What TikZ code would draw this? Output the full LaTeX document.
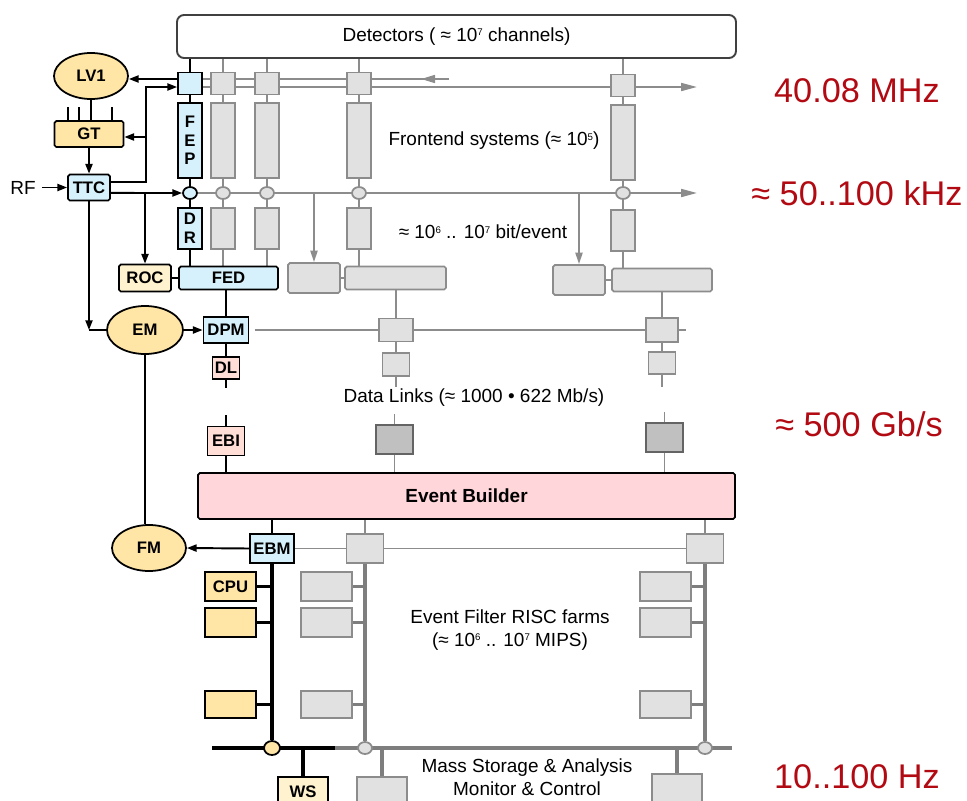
\documentclass[tikz,border=0pt]{standalone}
\usepackage{fontspec}
\setmainfont{Liberation Sans}
\usetikzlibrary{shapes.geometric,arrows.meta,backgrounds}

\definecolor{bluefill}{RGB}{214,240,252}
\definecolor{yelfill}{RGB}{255,230,166}
\definecolor{palefill}{RGB}{255,242,206}
\definecolor{pinkfill}{RGB}{255,222,216}
\definecolor{ebfill}{RGB}{255,214,218}
\definecolor{grfill}{RGB}{225,225,225}
\definecolor{grline}{RGB}{140,140,140}
\definecolor{dkfill}{RGB}{192,192,192}
\definecolor{dkline}{RGB}{100,100,100}
\definecolor{ratecol}{RGB}{178,10,18}
\newcommand{\sups}[1]{\raisebox{0.55ex}{\fontsize{5.5}{6}\selectfont #1}}

\begin{document}
\begin{tikzpicture}[x=0.02cm,y=-0.02cm,>={Triangle[length=5.5pt,width=4pt]},
  sz/.style 2 args={minimum width=#1*0.02cm,minimum height=#2*0.02cm},
  box/.style={draw,line width=1pt,inner sep=0pt,rounded corners=1pt,font=\fontsize{9.5}{10.6}\selectfont\bfseries,align=center},
  bluebox/.style={box,fill=bluefill},
  yelbox/.style={box,fill=yelfill},
  palebox/.style={box,fill=palefill},
  pinkbox/.style={box,fill=pinkfill},
  oval/.style={box,ellipse,fill=yelfill},
  grbox/.style={draw=grline,line width=1pt,fill=grfill,inner sep=0pt,rounded corners=1pt},
  dkbox/.style={draw=dkline,line width=1pt,fill=dkfill,inner sep=0pt},
  grdot/.style={grbox,ellipse,sz={14}{12}},
  bk/.style={line width=1.1pt},
  gl/.style={grline,line width=1.1pt},
  garr/.style={grline,line width=1.1pt,-{Triangle[length=9pt,width=4.5pt]}},
  gdown/.style={grline,line width=1.1pt,-{Triangle[length=6.5pt,width=4pt]}},
  bus/.style={line width=2pt},
  gbus/.style={grline!90!black,line width=2pt},
  lbl/.style={font=\fontsize{10.8}{13}\selectfont,align=center},
  rate/.style={text=ratecol,font=\fontsize{19.5}{22}\selectfont}]
\useasboundingbox (0,0) rectangle (967,801);
\clip (0,0) rectangle (967,801);

% detectors and trigger
\node[draw=black!75,line width=1.1pt,rounded corners=4pt,sz={559}{43},lbl] (det) at (456.5,36.5) {Detectors ( ≈ 10\sups{7} channels)};
\node[oval,sz={74}{46}] (lv1) at (91,76) {LV1};
\node[yelbox,sz={69}{26}] (gt) at (89,134) {GT};
\node[bluebox,sz={42}{26}] (ttc) at (89,187.5) {TTC};
\node[lbl] (rf) at (23,187.5) {RF};
\node[palebox,sz={52}{27}] (roc) at (145,278) {ROC};

% first (black) column
\node[bluebox,rounded corners=0pt,sz={24}{22}] (ctl) at (190,83.5) {};
\node[bluebox,rounded corners=0pt,sz={24}{75}] (fep) at (190,140.5) {F\\E\\P};
\node[bluebox,rounded corners=0pt,ellipse,sz={14}{12}] (c1) at (190,193) {};
\node[bluebox,rounded corners=0pt,sz={24}{41}] (dr) at (190,228.5) {D\\R};
\node[bluebox,sz={99}{23}] (fed) at (228.5,278) {FED};
\node[oval,sz={76}{48}] (em) at (145,330) {EM};
\node[bluebox,rounded corners=0pt,sz={45}{26}] (dpm) at (226,330) {DPM};
\node[pinkbox,rounded corners=0pt,sz={27}{22}] (dl) at (226,368) {DL};
\node[pinkbox,rounded corners=0pt,sz={37}{29}] (ebi) at (226,441) {EBI};

% grey frontend columns
\node[grbox,rounded corners=0pt,sz={24}{22}] (tb) at (223,83.5) {};
\node[grbox,rounded corners=0pt,sz={24}{22}] (tc) at (267,83.5) {};
\node[grbox,rounded corners=0pt,sz={24}{22}] (td) at (359,83.5) {};
\node[grbox,rounded corners=0pt,sz={24}{22}] (te) at (623,85.5) {};
\node[grbox,rounded corners=0pt,sz={24}{75}] (fb) at (223,140.5) {};
\node[grbox,rounded corners=0pt,sz={24}{75}] (fc) at (267,140.5) {};
\node[grbox,rounded corners=0pt,sz={24}{75}] (fd) at (359,140.5) {};
\node[grbox,rounded corners=0pt,sz={24}{75}] (fe) at (623,142.5) {};
\node[grdot] (cb) at (223,193) {};
\node[grdot] (cc) at (267,193) {};
\node[grdot] (cd) at (359,193) {};
\node[grdot] (ce) at (623,193) {};
\node[grbox,rounded corners=0pt,sz={24}{41}] (lb) at (223,228.5) {};
\node[grbox,rounded corners=0pt,sz={24}{41}] (lc) at (267,228.5) {};
\node[grbox,rounded corners=0pt,sz={24}{41}] (ld) at (359,228.5) {};
\node[grbox,rounded corners=0pt,sz={24}{41}] (le) at (623,230.5) {};
\node[grbox,sz={52}{30}] (ra) at (314,278) {};
\node[grbox,sz={101}{23}] (rb) at (395.5,278) {};
\node[grbox,sz={52}{30}] (rc) at (579,280) {};
\node[grbox,sz={100}{23}] (rd) at (662,280) {};

% data links
\node[grbox,rounded corners=0pt,sz={34}{23}] (pa) at (396,330) {};
\node[grbox,rounded corners=0pt,sz={32}{24}] (pb) at (662,330) {};
\node[grbox,rounded corners=0pt,sz={27}{23}] (ka) at (396,364.5) {};
\node[grbox,rounded corners=0pt,sz={27}{22}] (kb) at (662,363) {};
\node[dkbox,sz={37}{29}] (xa) at (394.5,439.5) {};
\node[dkbox,sz={37}{29}] (xb) at (664.5,437.5) {};

% event builder and farms
\node[box,fill=ebfill,line width=1pt,sz={537}{46},font=\fontsize{10.8}{13}\selectfont\bfseries] (eb) at (466.5,496) {Event Builder};
\node[oval,sz={74}{46}] (fm) at (149,548) {FM};
\node[bluebox,rounded corners=0pt,sz={44}{29}] (ebm) at (272,548.5) {EBM};
\node[grbox,rounded corners=0pt,sz={37}{29}] (ga) at (365,548.5) {};
\node[grbox,rounded corners=0pt,sz={37}{29}] (gb) at (705,548.5) {};
\node[yelbox,rounded corners=0pt,sz={51}{29}] (cpu1) at (230.5,586.5) {CPU};
\node[yelbox,rounded corners=0pt,sz={51}{29}] (cpu2) at (230.5,622.5) {};
\node[yelbox,rounded corners=0pt,sz={51}{27}] (cpu3) at (230.5,704.5) {};
\node[grbox,rounded corners=0pt,sz={51}{29}] (fa1) at (326.5,586.5) {};
\node[grbox,rounded corners=0pt,sz={51}{29}] (fa2) at (326.5,622.5) {};
\node[grbox,rounded corners=0pt,sz={51}{27}] (fa3) at (326.5,704.5) {};
\node[grbox,rounded corners=0pt,sz={51}{29}] (fb1) at (665.5,586.5) {};
\node[grbox,rounded corners=0pt,sz={51}{29}] (fb2) at (665.5,622.5) {};
\node[grbox,rounded corners=0pt,sz={51}{27}] (fb3) at (665.5,704.5) {};
\node[yelbox,rounded corners=0pt,ellipse,sz={16}{14}] (yc) at (272,748) {};
\node[grdot] (gc1) at (365,748) {};
\node[grdot] (gc2) at (705,748) {};
\node[palebox,rounded corners=0pt,sz={50}{29}] (ws) at (303,791.5) {WS};
\node[grbox,rounded corners=0pt,sz={50}{29}] (sa) at (382,791.5) {};
\node[grbox,rounded corners=0pt,sz={50}{30}] (sb) at (677,789) {};

% texts
\node[lbl] (fes) at (494,141) {Frontend systems (≈ 10\sups{5})};
\node[lbl] (bpe) at (483,232) {≈ 10\sups{6} .. 10\sups{7} bit/event};
\node[lbl] (dlk) at (474,398) {Data Links (≈ 1000 • 622 Mb/s)};
\node[lbl] (efr) at (510,630) {Event Filter RISC farms\\(≈ 10\sups{6} .. 10\sups{7} MIPS)};
\node[lbl] (msa) at (527,777) {Mass Storage \& Analysis\\Monitor \& Control};
\node[rate] (r1) at (857,91) {40.08 MHz};
\node[rate] (r2) at (857,193) {≈ 50..100 kHz};
\node[rate] (r3) at (859,424) {≈ 500 Gb/s};
\node[rate] (r4) at (857,777) {10..100 Hz};

\coordinate (upend) at (449,79);
\coordinate (lowend) at (697,87);
\coordinate (midend) at (697,193);
\coordinate (tj) at (146,137);
\coordinate (dlend) at (686,330);
\coordinate (busl) at (212,748);
\coordinate (busm) at (335,748);
\coordinate (busr) at (732,748);

\begin{scope}[on background layer]
% trigger and control
\draw[bk,->] (ctl.west |- upend) -- (lv1.east |- upend);
\draw[bk] (lv1.south) -- (lv1.south |- gt.north);
\draw[bk] (gt.north) ++(-21,0) -- ++(0,-13);
\draw[bk] (gt.north) ++(-10,0) -- ++(0,-13);
\draw[bk] (gt.north) ++(23,0) -- ++(0,-13);
\draw[bk,->] (gt.south) -- (ttc.north);
\draw[bk,->] (rf.east) -- (ttc.west);
\draw[bk,->] ([yshift=3.1pt]ttc.east) -| (tj) |- (ctl.west |- lowend);
\draw[bk,->] (tj) -- (gt.east |- tj);
\draw[bk,->] ([yshift=-3.1pt]ttc.east) -- (c1.west);
\draw[bk,->] (roc.north |- c1) -- (roc.north);
\draw[bk] (roc.east) -- (fed.west);
\draw[bk,->] (ttc.south) -- (ttc.south |- em);
\draw[bk] (ttc.south |- em) -- (em.west);
\draw[bk,->] (em.east) -- (dpm.west);
\draw[bk] (em.south) -- (em.south |- fm.north);
% timing lines
\draw[gl] (ctl.east |- upend) -- (upend);
\draw[gl,-{Triangle[length=8pt,width=4.5pt]}] (upend) -- ++(-28,0);
\draw[garr] (ctl.east |- lowend) -- (lowend);
\draw[garr] (c1.east) -- (midend);
\draw[gdown] (ra.north |- midend) -- (ra.north);
\draw[gdown] (rc.north |- midend) -- (rc.north);
% black column
\draw[bk] (det.south -| ctl) -- (ctl.north);
\draw[bk] (ctl.south) -- (fep.north);
\draw[bk] (fep.south) -- (c1.north);
\draw[bk] (c1.south) -- (dr.north);
\draw[bk] (dr.south) -- (dr.south |- fed.north);
\draw[bk] (dpm.north |- fed.south) -- (dpm.north);
\draw[bk] (dpm.south) -- (dl.north);
\draw[bk] (dl.south) -- ++(0,8);
\draw[bk] (ebi.north) -- ++(0,-11);
\draw[bk] (ebi.south) -- (ebi.south |- eb.north);
% grey columns
\draw[gl] (det.south -| tb) -- (lb.south |- fed.north);
\draw[gl] (det.south -| tc) -- (lc.south |- fed.north);
\draw[gl] (det.south -| td) -- (ld.south |- rb.north);
\draw[gl] (det.south -| te) -- (le.south |- rd.north);
\draw[gl] (ra.east) -- (rb.west);
\draw[gl] (rc.east) -- (rd.west);
\draw[gl] (pa.north |- rb.south) -- (ka.south) -- ++(0,10);
\draw[gl] (pb.north |- rd.south) -- (kb.south) -- ++(0,12);
\draw[gl] ([xshift=3pt]dpm.east) -- (dlend);
\draw[gl] (xa.north) -- ++(0,-10);
\draw[gl] (xb.north) -- ++(0,-10);
\draw[gl] (xa.south) -- (xa.south |- eb.north);
\draw[gl] (xb.south) -- (xb.south |- eb.north);
% event builder and farms
\draw[bk] (ebm.north |- eb.south) -- (ebm.north);
\draw[gl] (ga.north |- eb.south) -- (ga.north);
\draw[gl] (gb.north |- eb.south) -- (gb.north);
\draw[bk,->] (ebm.west) -- (fm.east);
\draw[gl] (ebm.east) -- (gb.west);
\draw[bus] (ebm.south) -- (yc.north);
\draw[bus] (cpu1.east) -- (cpu1.east -| yc);
\draw[bus] (cpu2.east) -- (cpu2.east -| yc);
\draw[bus] (cpu3.east) -- (cpu3.east -| yc);
\draw[gbus] (ga.south) -- (gc1.north);
\draw[gbus] (fa1.east) -- (fa1.east -| gc1);
\draw[gbus] (fa2.east) -- (fa2.east -| gc1);
\draw[gbus] (fa3.east) -- (fa3.east -| gc1);
\draw[gbus] (gb.south) -- (gc2.north);
\draw[gbus] (fb1.east) -- (fb1.east -| gc2);
\draw[gbus] (fb2.east) -- (fb2.east -| gc2);
\draw[gbus] (fb3.east) -- (fb3.east -| gc2);
\draw[line width=2.2pt] (busl) -- (busm);
\draw[gbus,line width=2.2pt] (busm) -- (busr);
\draw[bus] (ws.north |- yc) -- (ws.north);
\draw[gbus] (sa.north |- gc1) -- (sa.north);
\draw[gbus] (sb.north |- gc2) -- (sb.north);
\end{scope}
\end{tikzpicture}
\end{document}
